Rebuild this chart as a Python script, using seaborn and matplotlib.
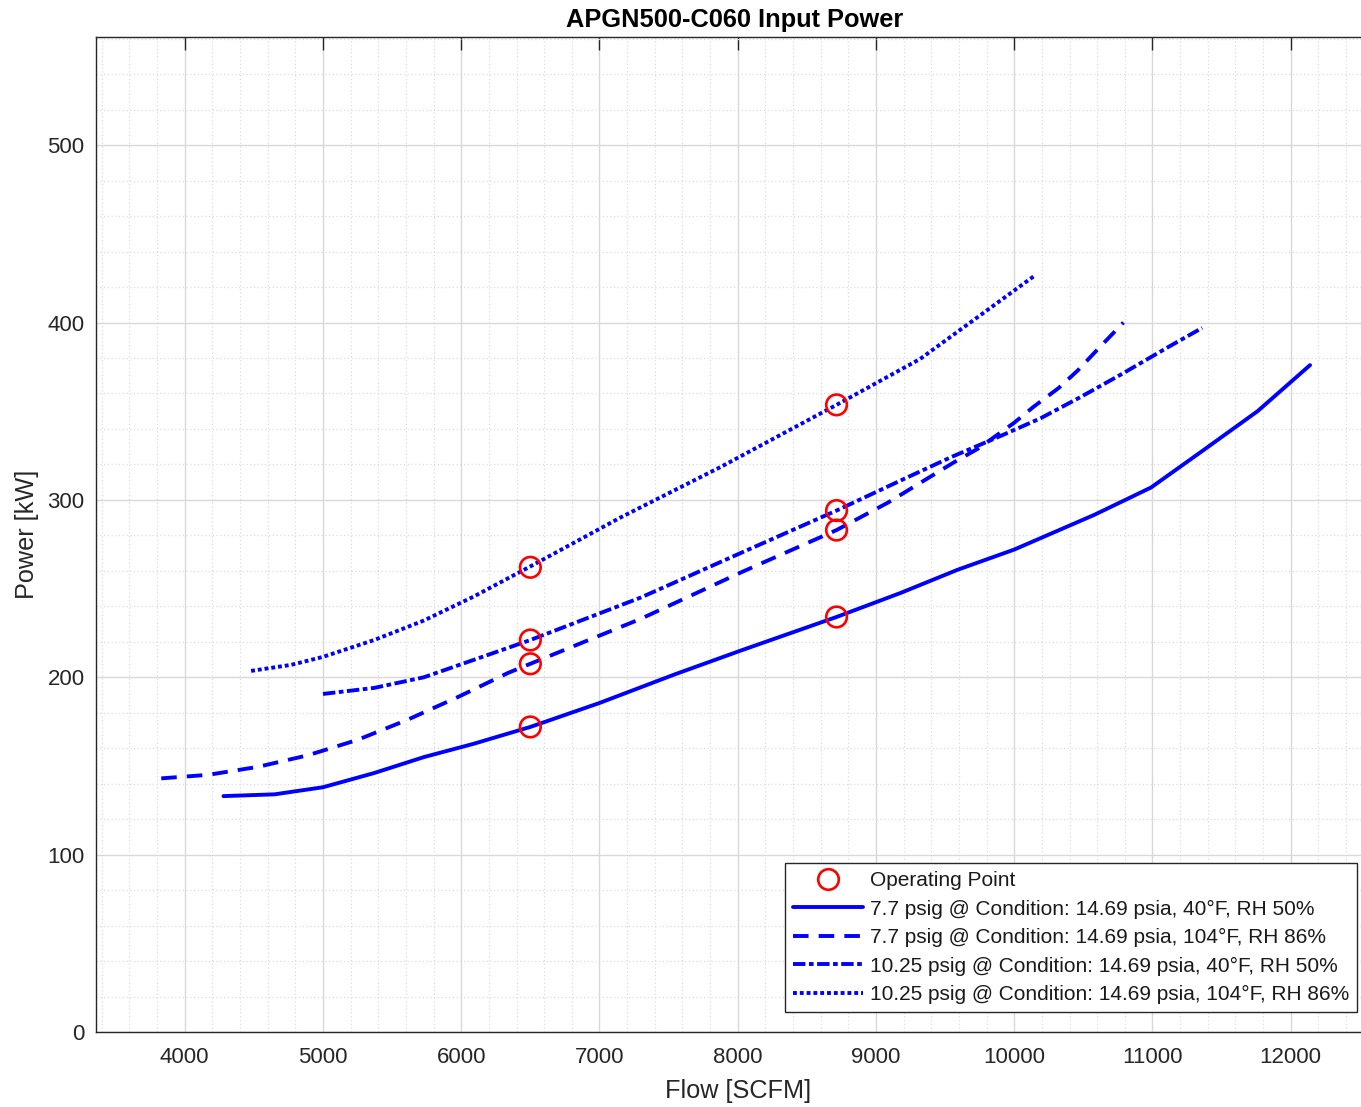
import numpy as np
import pandas as pd
import matplotlib
matplotlib.use('Agg')
import matplotlib.pyplot as plt
from matplotlib.ticker import MultipleLocator
from matplotlib.lines import Line2D
import seaborn as sns

# curves (flow in SCFM, power in kW)
flow_77_40 = [4280, 4650, 5000, 5370, 5730, 6090, 6500, 7000, 7540, 8020, 8715,
              9180, 9590, 10000, 10580, 10990, 11350, 11760, 12140]
power_77_40 = [133, 134, 138, 146, 155, 162.5, 172, 185.5, 201.5, 215, 234,
               247.6, 260.6, 272, 291.6, 307, 327, 350, 376]

flow_77_104 = [3830, 4170, 4530, 4890, 5250, 5610, 5980, 6340, 6500, 7300, 8020,
               8715, 9085, 9560, 9740, 10000, 10140, 10320, 10460, 10600, 10790]
power_77_104 = [143, 145, 149.5, 156, 164.7, 176, 189, 202.5, 207.6, 233, 259,
                283, 298.4, 321, 329, 343.5, 352.5, 363, 373, 384.6, 400]

flow_1025_40 = [5000, 5370, 5730, 6090, 6500, 7300, 8020, 8715, 9180, 9540,
                9900, 10190, 10480, 10770, 11110, 11360]
power_1025_40 = [190.6, 194, 200, 209.8, 221, 245, 270, 294, 311, 324,
                 336, 346, 358, 370.6, 386, 397]

flow_1025_104 = [4480, 4770, 5000, 5370, 5730, 6090, 6500, 7150, 7880, 8715,
                 9320, 9710, 10140]
power_1025_104 = [203.6, 207, 211.5, 221, 232, 245.5, 262.5, 290, 318.7, 353.6,
                  379.5, 401.6, 426]

op_flow = [6500, 6500, 6500, 6500, 8715, 8715, 8715, 8715]
op_power = [172, 207.6, 221, 262, 234, 283, 294, 353.6]

labels = ['7.7 psig @ Condition: 14.69 psia, 40°F, RH 50%',
          '7.7 psig @ Condition: 14.69 psia, 104°F, RH 86%',
          '10.25 psig @ Condition: 14.69 psia, 40°F, RH 50%',
          '10.25 psig @ Condition: 14.69 psia, 104°F, RH 86%']


def main():
    sns.set_theme(style='white')
    plt.rcParams['font.family'] = ['Liberation Sans', 'DejaVu Sans']

    fig = plt.figure(figsize=(13.61, 11.07), dpi=100)
    ax = fig.add_axes([95.7 / 1361, 75 / 1107, (1380 - 95.7) / 1361, 995 / 1107])

    series = [(flow_77_40, power_77_40, '-'),
              (flow_77_104, power_77_104, (0, (4, 2.6))),
              (flow_1025_40, power_1025_40, (0, (3.2, 0.9, 1.2, 0.9))),
              (flow_1025_104, power_1025_104, (0, (1, 0.75)))]

    handles = []
    for (fx, py, ls), lab in zip(series, labels):
        df = pd.DataFrame({'flow': fx, 'power': py})
        sns.lineplot(data=df, x='flow', y='power', ax=ax, color='#0000ff',
                     linewidth=2.8, linestyle=ls, estimator=None, sort=False)
        handles.append(Line2D([], [], color='#0000ff', linewidth=2.8,
                              linestyle=ls, label=lab))

    sns.scatterplot(x=op_flow, y=op_power, ax=ax, marker='o', s=220,
                    facecolor='none', edgecolor='#ff0000', linewidth=1.9,
                    zorder=5)
    op_handle = Line2D([], [], linestyle='none', marker='o', markersize=14.8,
                       markerfacecolor='none', markeredgecolor='#ff0000',
                       markeredgewidth=1.9, label='Operating Point')

    ax.set_xlim(3356, 12646)
    ax.set_ylim(0, 561)
    ax.xaxis.set_major_locator(MultipleLocator(1000))
    ax.xaxis.set_minor_locator(MultipleLocator(200))
    ax.yaxis.set_major_locator(MultipleLocator(100))
    ax.yaxis.set_minor_locator(MultipleLocator(20))

    ax.grid(which='major', color='#d8d8d8', linewidth=1.0, linestyle='-')
    ax.grid(which='minor', color='#dcdcdc', linewidth=0.9, linestyle=(0, (1, 2)))
    ax.set_axisbelow(True)

    ax.tick_params(which='major', direction='in', length=9.5, width=1.0,
                   color='#262626', labelcolor='#262626', labelsize=16,
                   top=True, right=True)
    ax.tick_params(axis='x', which='major', pad=11)
    ax.tick_params(axis='y', which='major', pad=8)
    ax.tick_params(which='minor', length=0)
    for sp in ax.spines.values():
        sp.set_color('#262626')
        sp.set_linewidth(1.0)

    ax.set_xlabel('Flow [SCFM]', fontsize=18.2, color='#262626', labelpad=8)
    ax.set_ylabel('Power [kW]', fontsize=18.2, color='#262626', labelpad=6)
    ax.set_title('APGN500-C060 Input Power', fontsize=18.3, fontweight='bold',
                 color='black', pad=7)
    ax.title.set_position((0.4974, 1.0))

    leg = ax.legend(handles=[op_handle] + handles, loc='lower right',
                    bbox_to_anchor=(0.982, 0.0201), borderaxespad=0,
                    fontsize=15, handlelength=3.4, handletextpad=0.3,
                    labelspacing=0.45, borderpad=0.38, fancybox=False,
                    framealpha=1, edgecolor='#262626')
    leg.get_frame().set_linewidth(1.0)
    for t in leg.get_texts():
        t.set_color('#1a1a1a')

    fig.savefig('out.png', dpi=100)


if __name__ == '__main__':
    main()
